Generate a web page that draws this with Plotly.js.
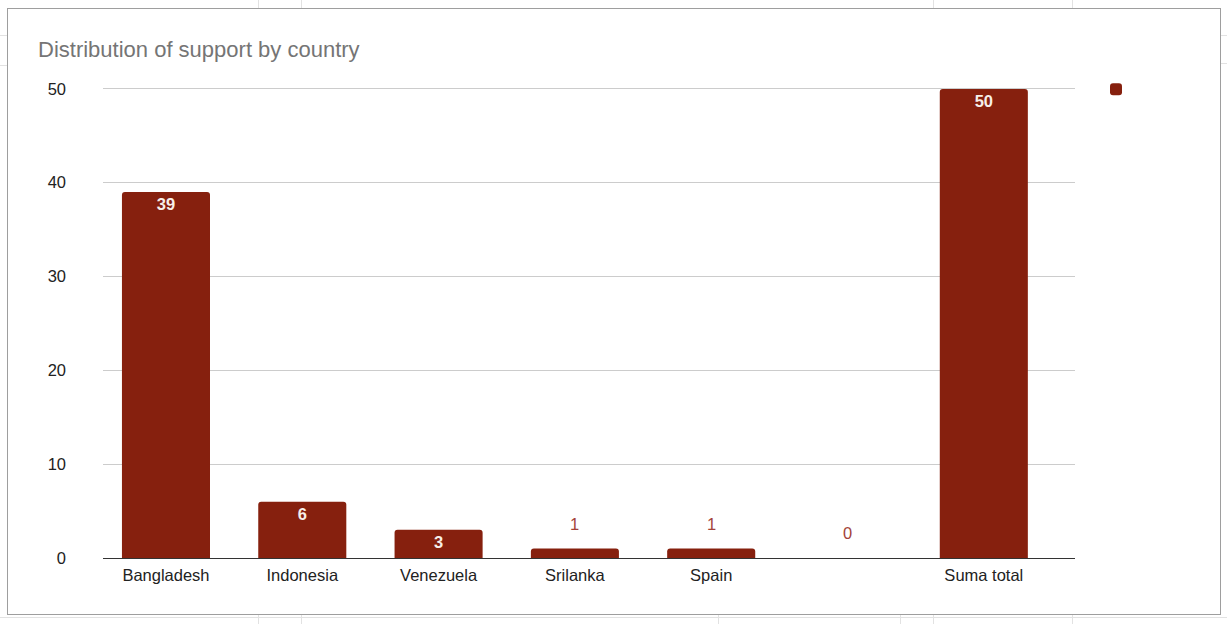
<!DOCTYPE html>
<html>
<head>
<meta charset="utf-8">
<script src="https://cdn.plot.ly/plotly-3.0.1.min.js"></script>
<style>
  html, body { margin: 0; padding: 0; background: #fff; }
  #wrap { position: relative; width: 1227px; height: 624px; overflow: hidden; }
  .gv { position: absolute; width: 1px; background: #e2e2e2; }
  .gh { position: absolute; height: 1px; background: #e2e2e2; }
  #frame { position: absolute; left: 7px; top: 8px; width: 1212px; height: 605px; border: 1px solid #9e9e9e; background: #fff; }
  #chart { position: absolute; left: 0; top: 0; width: 1227px; height: 624px; }
</style>
</head>
<body>
<div id="wrap">
  <div class="gv" style="left:258px;top:0;height:8px"></div>
  <div class="gv" style="left:301px;top:0;height:8px"></div>
  <div class="gv" style="left:933px;top:0;height:8px"></div>
  <div class="gv" style="left:1072px;top:0;height:8px"></div>
  <div class="gv" style="left:258px;top:615px;height:9px"></div>
  <div class="gv" style="left:301px;top:615px;height:9px"></div>
  <div class="gv" style="left:718px;top:615px;height:9px"></div>
  <div class="gv" style="left:900px;top:615px;height:9px"></div>
  <div class="gv" style="left:933px;top:615px;height:9px"></div>
  <div class="gv" style="left:1072px;top:615px;height:9px"></div>
  <div class="gh" style="left:1221px;top:35px;width:6px"></div>
  <div class="gh" style="left:1221px;top:63px;width:6px"></div>
  <div class="gh" style="left:0;top:35px;width:7px"></div>
  <div class="gh" style="left:0;top:65px;width:7px"></div>
  <div class="gh" style="left:0;top:617px;width:1227px"></div>
  <div id="frame"></div>
  <div id="chart"></div>
</div>
<script>
// ---- data ----
const categories = ["Bangladesh", "Indonesia", "Venezuela", "Srilanka", "Spain", "", "Suma total"];
const supportValues = [39, 6, 3, 1, 1, 0, 50];
const yTickValues = [0, 10, 20, 30, 40, 50];

const idx = categories.map((c, i) => i);
const insideThreshold = 3;
const barColor = "#86200e";
const font = "Liberation Sans, Arial, sans-serif";

const trace = {
  type: "bar",
  x: idx,
  y: supportValues,
  name: " ",
  width: 0.646,
  marker: { color: barColor, cornerradius: 3, line: { width: 0 } },
  text: supportValues.map(v => v >= insideThreshold ? String(v) : ""),
  textposition: "inside",
  insidetextanchor: "end",
  textangle: 0,
  insidetextfont: { family: font, size: 16.5, color: "#f7efe9", weight: "bold" },
  constraintext: "none",
  hoverinfo: "none",
  showlegend: true
};

const annotations = supportValues
  .map((v, i) => ({ v, i }))
  .filter(o => o.v < insideThreshold)
  .map(o => ({
    x: o.i, y: o.v, xref: "x", yref: "y",
    text: String(o.v), showarrow: false,
    yshift: 25, yanchor: "middle",
    font: { family: font, size: 16.5, color: "#a3433a" }
  }));

const layout = {
  width: 1227, height: 624,
  paper_bgcolor: "rgba(0,0,0,0)",
  plot_bgcolor: "rgba(0,0,0,0)",
  margin: { l: 103, r: 152, t: 87, b: 66 },
  title: {
    text: "Distribution of support by country",
    xref: "container", yref: "container",
    x: 38 / 1227, xanchor: "left",
    y: 1 - 49 / 624, yanchor: "middle",
    font: { family: font, size: 22, color: "#757575" }
  },
  xaxis: {
    range: [-0.462, 6.669],
    tickmode: "array",
    tickvals: idx,
    ticktext: categories,
    showgrid: false,
    zeroline: false,
    showline: false,
    ticks: "",
    ticklabelstandoff: 5,
    tickfont: { family: font, size: 16.5, color: "#222" },
    fixedrange: true
  },
  yaxis: {
    range: [0, 50.2],
    tickmode: "array",
    tickvals: yTickValues,
    showgrid: true,
    gridcolor: "#cccccc",
    gridwidth: 1,
    zeroline: true,
    zerolinecolor: "#333333",
    zerolinewidth: 1,
    ticks: "",
    ticklabelstandoff: 36,
    tickfont: { family: font, size: 16.5, color: "#222" },
    fixedrange: true
  },
  showlegend: true,
  legend: {
    xref: "container", yref: "container",
    x: 1096 / 1227, xanchor: "left",
    y: 1 - 73 / 624, yanchor: "top",
    font: { family: font, size: 15, color: "#222" },
    bgcolor: "rgba(0,0,0,0)"
  },
  annotations: annotations
};

Plotly.newPlot("chart", [trace], layout, { displayModeBar: false, staticPlot: true });
</script>
</body>
</html>
